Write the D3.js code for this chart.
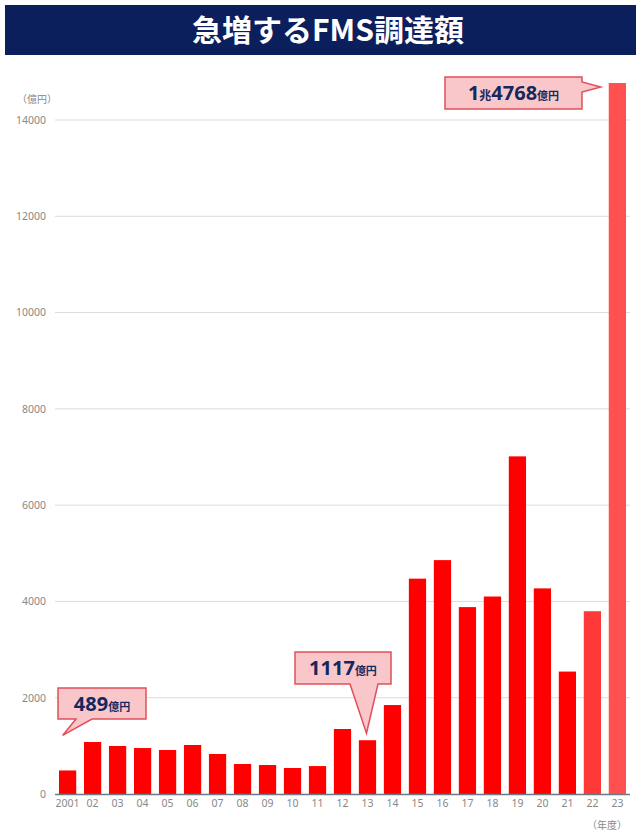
<!DOCTYPE html>
<html><head><meta charset="utf-8">
<script src="https://cdn.jsdelivr.net/npm/d3@7/dist/d3.min.js"></script>
<style>
body{margin:0;background:#fff;}
svg{display:block;font-family:"Noto Sans CJK JP","Noto Sans",sans-serif;}
</style></head>
<body><svg id="c" width="641" height="836"></svg>
<script>
const years = ["2001","02","03","04","05","06","07","08","09","10","11","12","13","14","15","16","17","18","19","20","21","22","23"];
const values = [489,1080,997,955,914,1018,831,623,602,540,580,1350,1117,1848,4473,4858,3882,4102,7013,4271,2543,3797,14768];
const yTicks = [0,2000,4000,6000,8000,10000,12000,14000];
const barColors = {"22":"#ff3838","23":"#ff5050"};
const callouts = [
  {year:"2001", num:"489", unit:"億円"},
  {year:"13", num:"1117", unit:"億円"},
  {year:"23", num:"1兆4768", unit:"億円"}
];

const svg = d3.select("#c");
const m = {left:55, right:630, top:120, bottom:794};
const x = d3.scaleBand().domain(years).range([m.left, m.right]).paddingInner(0.31).paddingOuter(0.16);
const y = d3.scaleLinear().domain([0,14000]).range([m.bottom, m.top]);

// title bar
svg.append("rect").attr("x",5).attr("y",5).attr("width",631).attr("height",50).attr("fill","#0b1f5c");
svg.append("text").attr("x",328).attr("y",41).attr("text-anchor","middle")
  .attr("fill","#fff").attr("font-size",30).attr("font-weight","bold").text("急増するFMS調達額");

// gridlines
svg.append("g").selectAll("line").data(yTicks.slice(1)).join("line")
  .attr("x1",m.left).attr("x2",m.right).attr("y1",d=>y(d)).attr("y2",d=>y(d))
  .attr("stroke","#dcdcdc").attr("stroke-width",1);

// y axis labels
const yAxis = d3.axisLeft(y).tickValues(yTicks).tickSize(0).tickPadding(9).tickFormat(d3.format("d"));
const gy = svg.append("g").attr("transform",`translate(${m.left},0)`).call(yAxis);
gy.select(".domain").remove();
gy.selectAll("text").attr("fill","#888").attr("font-size",10.5).attr("font-family","'Noto Sans',sans-serif");
svg.append("text").attr("x",17).attr("y",103).attr("fill","#888").attr("font-size",10).text("（億円）");

// bars
svg.append("g").selectAll("rect").data(years).join("rect")
  .attr("x",d=>x(d)).attr("width",x.bandwidth())
  .attr("y",(d,i)=>y(values[i])).attr("height",(d,i)=>y(0)-y(values[i]))
  .attr("fill",d=>barColors[d]||"#ff0000");

// baseline
svg.append("line").attr("x1",m.left).attr("x2",m.right).attr("y1",y(0)+0.5).attr("y2",y(0)+0.5)
  .attr("stroke","#6b7a85").attr("stroke-width",1.5);

// x axis
const xAxis = d3.axisBottom(x).tickSize(0).tickPadding(6);
const gx = svg.append("g").attr("transform",`translate(0,${m.bottom})`).call(xAxis);
gx.select(".domain").remove();
gx.selectAll("text").attr("fill","#888").attr("font-size",10.5).attr("font-family","'Noto Sans',sans-serif");
svg.append("text").attr("x",627).attr("y",829).attr("text-anchor","end").attr("fill","#888").attr("font-size",10).text("（年度）");

// callouts
function val(yr){return values[years.indexOf(yr)];}
function cx(yr){return x(yr)+x.bandwidth()/2;}
const cg = svg.append("g");
function drawCallout(c, box, tail, tip){
  const [bx,by,bw,bh] = box;
  let p;
  if(tail.side==="bottom"){
    p = `M${bx},${by} H${bx+bw} V${by+bh} H${tail.b} L${tip[0]},${tip[1]} L${tail.a},${by+bh} H${bx} Z`;
  } else {
    p = `M${bx},${by} H${bx+bw} V${tail.a} L${tip[0]},${tip[1]} L${bx+bw},${tail.b} V${by+bh} H${bx} Z`;
  }
  cg.append("path").attr("d",p).attr("fill","#f9c6c9").attr("stroke","#e0505a").attr("stroke-width",1.5);
  const t = cg.append("text").attr("x",bx+bw/2).attr("y",by+bh/2+7).attr("text-anchor","middle")
    .attr("fill","#14285e").attr("font-weight","bold").attr("font-family","'Noto Sans','Noto Sans CJK JP',sans-serif");
  if(c.num.includes("兆")){
    const parts = c.num.split("兆");
    t.append("tspan").attr("font-size",20).text(parts[0]);
    t.append("tspan").attr("font-size",12).attr("font-family","'Noto Sans CJK JP'").text("兆");
    t.append("tspan").attr("font-size",20).text(parts[1]);
  } else {
    t.append("tspan").attr("font-size",20).text(c.num);
  }
  t.append("tspan").attr("font-size",11).attr("font-family","'Noto Sans CJK JP'").text(c.unit);
}
{
  const c = callouts[0];
  const tip = [cx(c.year)-5, y(val(c.year))-35];
  drawCallout(c,[58,688,88,31],{side:"bottom",a:76,b:92},tip);
}
{
  const c = callouts[1];
  const tip = [cx(c.year)-1, y(val(c.year))-7];
  drawCallout(c,[295,652,96,32],{side:"bottom",a:350,b:378},tip);
}
{
  const c = callouts[2];
  const tip = [x(c.year)-8, y(val(c.year))+4];
  drawCallout(c,[445,77,137,32],{side:"right",a:82,b:92},tip);
}
</script></body></html>
